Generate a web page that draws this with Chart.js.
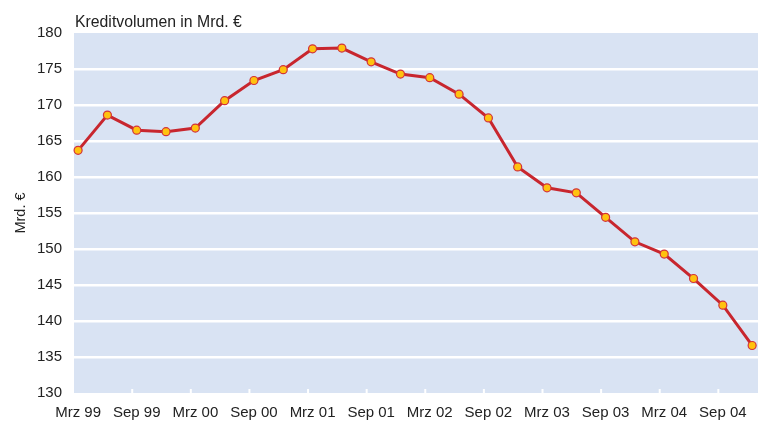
<!DOCTYPE html>
<html>
<head>
<meta charset="utf-8">
<script src="https://cdn.jsdelivr.net/npm/chart.js@4"></script>
<style>
  html, body { margin: 0; padding: 0; background: #fff; }
  #wrap { width: 766px; height: 425px; }
</style>
</head>
<body>
<div id="wrap"><canvas id="KreditCvs" width="766" height="425"></canvas></div>
<script>
// quartale Mrz 99 .. Dez 04
const quarters = [
  'Mrz 99','Jun 99','Sep 99','Dez 99','Mrz 00','Jun 00','Sep 00','Dez 00',
  'Mrz 01','Jun 01','Sep 01','Dez 01','Mrz 02','Jun 02','Sep 02','Dez 02',
  'Mrz 03','Jun 03','Sep 03','Dez 03','Mrz 04','Jun 04','Sep 04','Dez 04'
];
const kreditVolumen = [
  163.7, 168.6, 166.5, 166.3, 166.8, 170.6, 173.4, 174.9,
  177.8, 177.9, 176.0, 174.3, 173.8, 171.5, 168.2, 161.4,
  158.5, 157.8, 154.4, 151.0, 149.3, 145.9, 142.2, 136.6
];
const xTickLabels = ['Mrz 99','Sep 99','Mrz 00','Sep 00','Mrz 01','Sep 01','Mrz 02','Sep 02','Mrz 03','Sep 03','Mrz 04','Sep 04'];
const yTicks = [130, 135, 140, 145, 150, 155, 160, 165, 170, 175, 180];

const FONT = '"Liberation Sans", Arial, sans-serif';

// hellblauer Hintergrund + kleine weiße Striche unten + Überschrift
const decoPlugin = {
  id: 'deco',
  beforeDraw(chart) {
    const { ctx, chartArea: a } = chart;
    ctx.save();
    ctx.fillStyle = '#d9e3f3';
    ctx.fillRect(a.left, a.top, a.right - a.left, a.bottom - a.top);
    ctx.restore();
  },
  afterDraw(chart) {
    const { ctx, chartArea: a, scales } = chart;
    ctx.save();
    ctx.strokeStyle = '#ffffff';
    ctx.lineWidth = 2;
    xTickLabels.forEach((l, k) => {
      if (k === 0) return;
      const px = scales.x.getPixelForValue(quarters.indexOf(l)) - 4.5;
      ctx.beginPath();
      ctx.moveTo(px, a.bottom);
      ctx.lineTo(px, a.bottom - 4);
      ctx.stroke();
    });
    ctx.fillStyle = '#222';
    ctx.font = '15.8px ' + FONT;
    ctx.textBaseline = 'alphabetic';
    ctx.fillText('Kreditvolumen in Mrd. €', a.left + 1, 27);
    ctx.restore();
  }
};

const ctx = document.getElementById('KreditCvs').getContext('2d');
new Chart(ctx, {
  type: 'line',
  data: {
    datasets: [{
      label: 'Kreditvolumen',
      data: kreditVolumen.map((v, i) => ({ x: i, y: v })),
      borderColor: '#c8262e',
      borderWidth: 3,
      pointRadius: 4,
      pointBorderWidth: 1.2,
      pointBackgroundColor: '#ffc20e',
      pointBorderColor: '#d2323a',
      tension: 0,
      clip: false
    }]
  },
  options: {
    responsive: false,
    animation: false,
    layout: { padding: { top: 33, right: 8, bottom: 0, left: 0 } },
    plugins: {
      legend: { display: false },
      tooltip: { enabled: false }
    },
    scales: {
      x: {
        type: 'linear',
        min: -0.14,
        max: 23.2,
        afterFit(scale) { scale.height = 32; },
        afterBuildTicks(scale) {
          scale.ticks = xTickLabels.map(l => ({ value: quarters.indexOf(l) }));
        },
        ticks: {
          autoSkip: false,
          maxRotation: 0,
          padding: 11,
          color: '#222',
          font: { family: FONT, size: 15 },
          callback: (v) => quarters[v]
        },
        grid: { display: false, drawTicks: false },
        border: { display: false }
      },
      y: {
        min: 130,
        max: 180,
        afterFit(scale) { scale.width = 74; },
        afterBuildTicks(scale) {
          scale.ticks = yTicks.map(v => ({ value: v }));
        },
        ticks: {
          padding: 12,
          color: '#222',
          font: { family: FONT, size: 15 }
        },
        title: {
          display: true,
          text: 'Mrd. €',
          color: '#222',
          font: { family: FONT, size: 14.5 },
          padding: { top: 12, bottom: 0 }
        },
        grid: {
          color: (c) => c.tick && (c.tick.value === 130 || c.tick.value === 180) ? 'rgba(0,0,0,0)' : '#ffffff',
          lineWidth: 2.5,
          drawTicks: false
        },
        border: { display: false }
      }
    }
  },
  plugins: [decoPlugin]
});
</script>
</body>
</html>
